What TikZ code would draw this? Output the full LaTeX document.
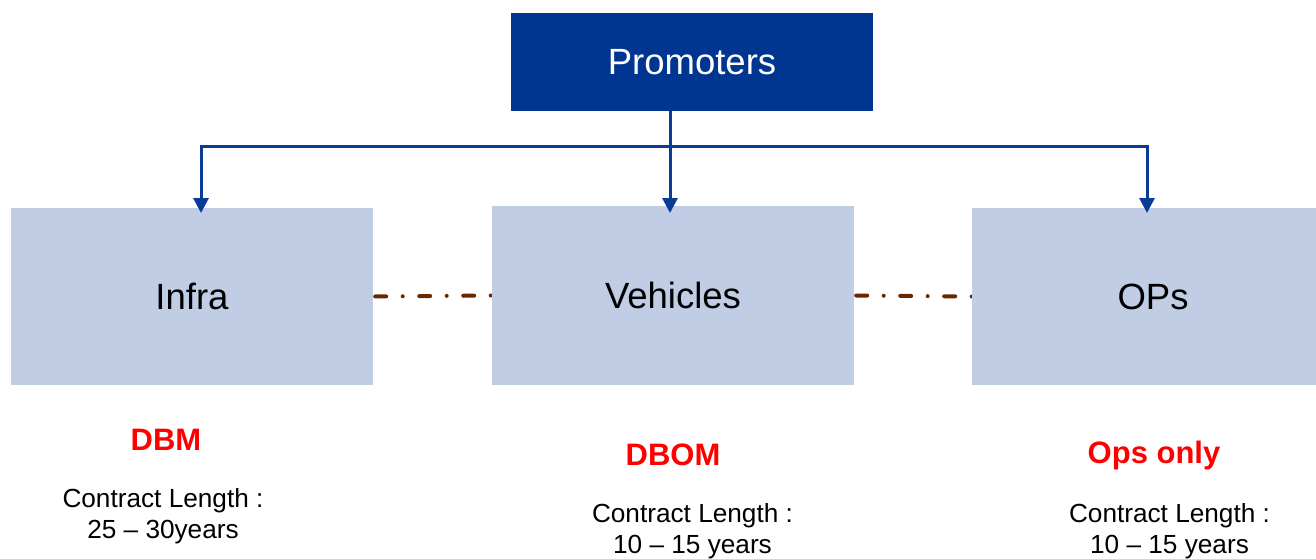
\documentclass[tikz,border=0pt]{standalone}
\usepackage{fontspec}
\setmainfont{Liberation Sans}
\usetikzlibrary{arrows.meta}
\definecolor{navy}{RGB}{0,53,145}
\definecolor{linkblue}{RGB}{8,60,150}
\definecolor{paleblue}{RGB}{193,205,229}
\definecolor{rust}{RGB}{107,40,0}
\pgfdeclarelayer{bg}
\pgfsetlayers{bg,main}
\tikzset{
  topbox/.style={fill=navy, text=white, minimum width=362pt, minimum height=98pt,
    inner sep=0pt, font=\fontsize{36.5}{40}\selectfont},
  unitbox/.style={fill=paleblue, text=black, minimum width=362pt, minimum height=177pt,
    inner sep=0pt, font=\fontsize{36.5}{40}\selectfont},
  feed/.style={draw=linkblue, line width=3pt,
    -{Triangle[width=15pt,length=15pt]}},
  link/.style={draw=rust, line width=4pt, line cap=round,
    dash pattern=on 11pt off 16.5pt on 0pt off 16.5pt, dash phase=-2pt},
  model/.style={text=red, font=\fontsize{31}{36}\bfseries\selectfont, anchor=base, inner sep=0pt},
  term/.style={align=center, font=\fontsize{26.2}{31}\selectfont, anchor=base, inner sep=0pt}
}
\begin{document}
\begin{tikzpicture}[x=1pt,y=-1pt]
\useasboundingbox (0,0) rectangle (1316,558);
\begin{pgfonlayer}{bg}
\fill[white] (0,0) rectangle (1316,558);
\end{pgfonlayer}
\clip (0,0) rectangle (1316,558);

\node[topbox] (prom) at (692,62) {Promoters};
\node[unitbox] (infra) at (192,296.5) {Infra};
\node[unitbox, minimum height=179pt] (veh) at (673,295.5) {Vehicles};
\node[unitbox] (ops) at (1153,296.5) {OPs};

% junction and arrow targets
\coordinate (hub) at (670,146);
\coordinate (tI) at (201,213);
\coordinate (tV) at (670,213);
\coordinate (tO) at (1147,213);

\draw[feed] (prom.south -| hub) -- (tV);
\draw[feed] (hub) -| (tI);
\draw[feed] (hub) -| (tO);

% dash-dot links between the units, kept beneath the boxes
\begin{pgfonlayer}{bg}
\draw[link] (infra.east) -- (veh.west);
\draw[link] (veh.east) -- (ops.west);
\end{pgfonlayer}

\node[model] (m1) at (166,450) {DBM};
\node[model] (m2) at (673,465) {DBOM};
\node[model] (m3) at (1154,463) {Ops only};

% base anchor of a two-line node sits on its last line
\node[term] (c1) at (163,538) {Contract Length :\\25 – 30years};
\node[term] (c2) at (692.5,553) {Contract Length :\\10 – 15 years};
\node[term] (c3) at (1169.5,553) {Contract Length :\\10 – 15 years};
\end{tikzpicture}
\end{document}
